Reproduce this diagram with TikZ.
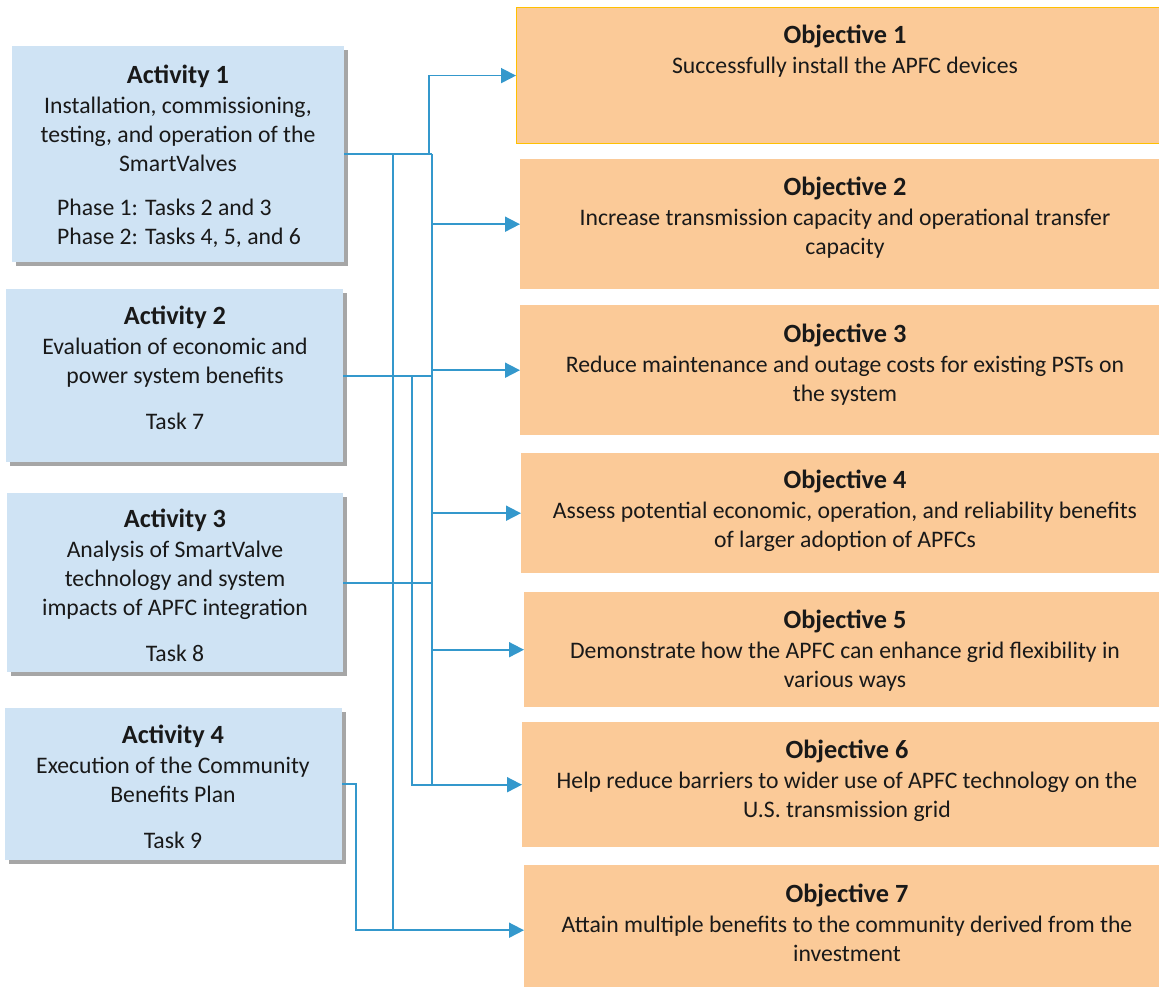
\documentclass[tikz,border=0pt]{standalone}
\usepackage{fontspec}
\setmainfont{Carlito}
\usetikzlibrary{arrows.meta,shadows}
\definecolor{actfill}{HTML}{CFE3F4}
\definecolor{objfill}{HTML}{FBCA98}
\definecolor{conncol}{HTML}{3498CC}
\definecolor{objborder}{HTML}{FFC000}
\newcommand\titlefnt{\fontsize{26.3}{29}\selectfont\bfseries}
\newcommand\fstrut{\rule{0pt}{22pt}}
\begin{document}
\begin{tikzpicture}[x=1pt,y=-1pt,
  actbox/.style={fill=actfill, draw=none, inner sep=0pt, anchor=north west,
    drop shadow={shadow xshift=4pt, shadow yshift=-4pt, fill=black, opacity=0.35}},
  objbox/.style={fill=objfill, draw=none, inner sep=0pt, anchor=north west, minimum width=660pt},
  txt/.style={inner sep=0pt, anchor=north, align=center, font=\fontsize{23.7}{29}\selectfont, text=black!90},
  conn/.style={draw=conncol, line width=1.8pt},
  thickconn/.style={draw=conncol, line width=2.4pt},
  arr/.style={conn, -{Triangle[length=15pt,width=15pt]}},
]
\useasboundingbox[fill=white] (0,0) rectangle (1159,987);

% activity boxes
\node[actbox, minimum width=332pt, minimum height=216pt] (a1) at (12,46) {};
\node[actbox, minimum width=337pt, minimum height=173pt] (a2) at (6,289) {};
\node[actbox, minimum width=336pt, minimum height=179pt] (a3) at (7,493) {};
\node[actbox, minimum width=337pt, minimum height=152pt] (a4) at (5,708) {};

\node[txt] (a1t) at (178,61) {\fstrut{\titlefnt Activity 1}\\[1pt]Installation, commissioning,\\testing, and operation of the\\SmartValves};
\node[txt, anchor=north west, align=left] (a1p) at (57,193) {\fstrut Phase 1: Tasks 2 and 3\\Phase 2: Tasks 4, 5, and 6};
\node[txt] (a2t) at (175,302) {\fstrut{\titlefnt Activity 2}\\[1pt]Evaluation of economic and\\power system benefits\\[17pt]Task 7};
\node[txt] (a3t) at (175,505) {\fstrut{\titlefnt Activity 3}\\[1pt]Analysis of SmartValve\\technology and system\\impacts of APFC integration\\[17pt]Task 8};
\node[txt] (a4t) at (173,721) {\fstrut{\titlefnt Activity 4}\\[1pt]Execution of the Community\\Benefits Plan\\[17pt]Task 9};

% objective boxes
\node[objbox, draw=objborder, line width=1.2pt, minimum height=136pt] (o1) at (516,7) {};
\node[objbox, minimum height=130pt] (o2) at (520,159) {};
\node[objbox, minimum height=130pt] (o3) at (520,305) {};
\node[objbox, minimum height=120pt] (o4) at (521,453) {};
\node[objbox, minimum height=115pt] (o5) at (524,592) {};
\node[objbox, minimum height=125pt] (o6) at (522,722) {};
\node[objbox, minimum height=130pt] (o7) at (524,865) {};

\node[txt] (o1t) at (845,21) {\fstrut{\titlefnt Objective 1}\\[1pt]Successfully install the APFC devices};
\node[txt] (o2t) at (845,173) {\fstrut{\titlefnt Objective 2}\\[1pt]Increase transmission capacity and operational transfer\\capacity};
\node[txt] (o3t) at (845,320) {\fstrut{\titlefnt Objective 3}\\[1pt]Reduce maintenance and outage costs for existing PSTs on\\the system};
\node[txt] (o4t) at (845,466) {\fstrut{\titlefnt Objective 4}\\[1pt]Assess potential economic, operation, and reliability benefits\\of larger adoption of APFCs};
\node[txt] (o5t) at (845,606) {\fstrut{\titlefnt Objective 5}\\[1pt]Demonstrate how the APFC can enhance grid flexibility in\\various ways};
\node[txt] (o6t) at (847,736) {\fstrut{\titlefnt Objective 6}\\[1pt]Help reduce barriers to wider use of APFC technology on the\\U.S. transmission grid};
\node[txt] (o7t) at (847,880) {\fstrut{\titlefnt Objective 7}\\[1pt]Attain multiple benefits to the community derived from the\\investment};

% bus x positions
\coordinate (xb) at (432,0);
\coordinate (xu) at (429,0);
\coordinate (xl) at (393,0);
\coordinate (xm) at (412,0);
\coordinate (xa) at (356,0);

% connectors
\draw[thickconn] (a1.east) -- (a1.east -| xb);
\draw[arr] (a1.east -| xu) |- (o1.west);
\draw[thickconn] (a1.east -| xb) -- (o6.west -| xb);
\foreach \k in {2,...,6} \draw[arr] (o\k.west -| xb) -- (o\k.west);
\draw[conn] (a2.east) -- (a2.east -| xb);
\draw[conn] (a3.east) -- (a3.east -| xb);
\draw[conn] (a2.east -| xm) |- (o6.west -| xb);
\draw[conn] (a1.east -| xl) -- (o7.west -| xl);
\draw[arr] (a4.east) -- (a4.east -| xa) |- (o7.west);
\end{tikzpicture}
\end{document}
